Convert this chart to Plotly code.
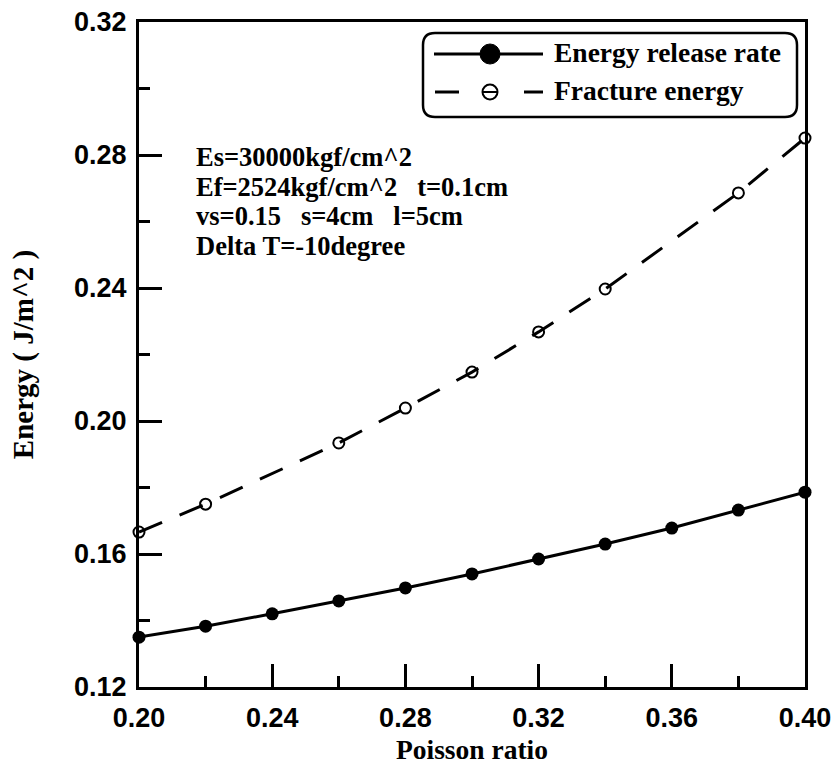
import plotly.graph_objects as go

# Poisson ratio sweep
poisson = [0.20, 0.22, 0.24, 0.26, 0.28, 0.30, 0.32, 0.34, 0.36, 0.38, 0.40]
release_rate = [0.1350, 0.1383, 0.1420, 0.1459, 0.1498, 0.1540, 0.1585, 0.1630, 0.1678, 0.1732, 0.1786]

poisson_fracture = [0.20, 0.22, 0.26, 0.28, 0.30, 0.32, 0.34, 0.38, 0.40]
fracture_energy = [0.1666, 0.1750, 0.1934, 0.2039, 0.2147, 0.2268, 0.2397, 0.2686, 0.2851]

x_ticks = [0.20, 0.24, 0.28, 0.32, 0.36, 0.40]
y_ticks = [0.12, 0.16, 0.20, 0.24, 0.28, 0.32]

series_names = ["Energy release rate", "Fracture energy"]
info_lines = [
    "Es=30000kgf/cm^2",
    "Ef=2524kgf/cm^2\u00a0\u00a0\u00a0t=0.1cm",
    "vs=0.15\u00a0\u00a0\u00a0s=4cm\u00a0\u00a0\u00a0l=5cm",
    "Delta T=-10degree",
]

W, H = 835, 765
ML, MR, MT, MB = 139, 30, 22, 78
PW, PH = W - ML - MR, H - MT - MB

SERIF = dict(family="Liberation Serif", size=27.5, color="black", weight="bold")
YTITLE = dict(family="Liberation Serif", size=29, color="black", weight="bold")
INFO = dict(family="Liberation Serif", size=26.5, color="black", weight="bold")
SANS = dict(family="Liberation Sans", size=27, color="black", weight="bold")


def px(xp):
    return (xp - ML) / PW


def py(yp):
    return (H - MB - yp) / PH


fig = go.Figure()

fig.add_trace(go.Scatter(
    x=poisson, y=release_rate, mode="lines+markers", name=series_names[0],
    line=dict(color="black", width=3),
    marker=dict(color="black", size=13),
    cliponaxis=False, showlegend=False,
))
fig.add_trace(go.Scatter(
    x=poisson_fracture, y=fracture_energy, mode="lines+markers", name=series_names[1],
    line=dict(color="black", width=3, dash="25px,19px"),
    marker=dict(symbol="circle-open", color="black", size=11, line=dict(width=2)),
    cliponaxis=False, showlegend=False,
))

axis_common = dict(
    showline=True, linecolor="black", linewidth=3, mirror=True,
    ticks="inside", ticklen=23, tickwidth=3, tickcolor="black",
    showgrid=False, zeroline=False, tickfont=SANS, tickformat=".2f",
    automargin=False,
    minor=dict(ticks="inside", ticklen=11, tickwidth=3, tickcolor="black", showgrid=False),
)

fig.update_xaxes(range=[0.20, 0.40], tickvals=x_ticks, minor_dtick=0.02,
                 title=dict(text="Poisson ratio", font=SERIF, standoff=11),
                 ticklabelstandoff=5, **axis_common)
fig.update_yaxes(range=[0.12, 0.32], tickvals=y_ticks, minor_dtick=0.02,
                 title=dict(text="Energy ( J/m^2 )", font=YTITLE, standoff=32),
                 ticklabelstandoff=4, **axis_common)

# Rounded legend frame
bx0, bx1, by0, by1, r = 423, 797, 33, 117, 12
path = (
    f"M {px(bx0 + r)},{py(by0)} L {px(bx1 - r)},{py(by0)} "
    f"Q {px(bx1)},{py(by0)} {px(bx1)},{py(by0 + r)} "
    f"L {px(bx1)},{py(by1 - r)} Q {px(bx1)},{py(by1)} {px(bx1 - r)},{py(by1)} "
    f"L {px(bx0 + r)},{py(by1)} Q {px(bx0)},{py(by1)} {px(bx0)},{py(by1 - r)} "
    f"L {px(bx0)},{py(by0 + r)} Q {px(bx0)},{py(by0)} {px(bx0 + r)},{py(by0)} Z"
)
shapes = [dict(type="path", xref="paper", yref="paper", path=path,
               line=dict(color="black", width=2.5), fillcolor="white", layer="above")]

# Legend entry 1: solid line with filled dot
r1 = 54
shapes.append(dict(type="line", xref="paper", yref="paper",
                   x0=px(434), x1=px(543), y0=py(r1), y1=py(r1),
                   line=dict(color="black", width=3)))
shapes.append(dict(type="circle", xref="paper", yref="paper",
                   xsizemode="pixel", ysizemode="pixel",
                   xanchor=px(490), yanchor=py(r1), x0=-10, x1=10, y0=-10, y1=10,
                   fillcolor="black", line=dict(color="black", width=1)))

# Legend entry 2: dashed line with open circle
r2 = 92
for a, b in [(435, 459), (524, 543), (483, 497)]:
    shapes.append(dict(type="line", xref="paper", yref="paper",
                       x0=px(a), x1=px(b), y0=py(r2), y1=py(r2),
                       line=dict(color="black", width=3 if a != 483 else 2)))
shapes.append(dict(type="circle", xref="paper", yref="paper",
                   xsizemode="pixel", ysizemode="pixel",
                   xanchor=px(490), yanchor=py(r2), x0=-7.5, x1=7.5, y0=-7.5, y1=7.5,
                   line=dict(color="black", width=2)))

annotations = []
for name, yy in zip(series_names, [r1 - 1, r2 - 1.5]):
    annotations.append(dict(text=name, xref="paper", yref="paper", x=px(552), y=py(yy),
                            xanchor="left", yanchor="middle", showarrow=False, font=SERIF))

for i, line in enumerate(info_lines):
    annotations.append(dict(text=line, xref="paper", yref="paper",
                            x=px(194), y=py(157 + 29.5 * i),
                            xanchor="left", yanchor="middle", showarrow=False, font=INFO))

fig.update_layout(
    width=W, height=H,
    margin=dict(l=ML, r=MR, t=MT, b=MB),
    paper_bgcolor="white", plot_bgcolor="white",
    shapes=shapes, annotations=annotations,
)

fig.write_html("out.html")
